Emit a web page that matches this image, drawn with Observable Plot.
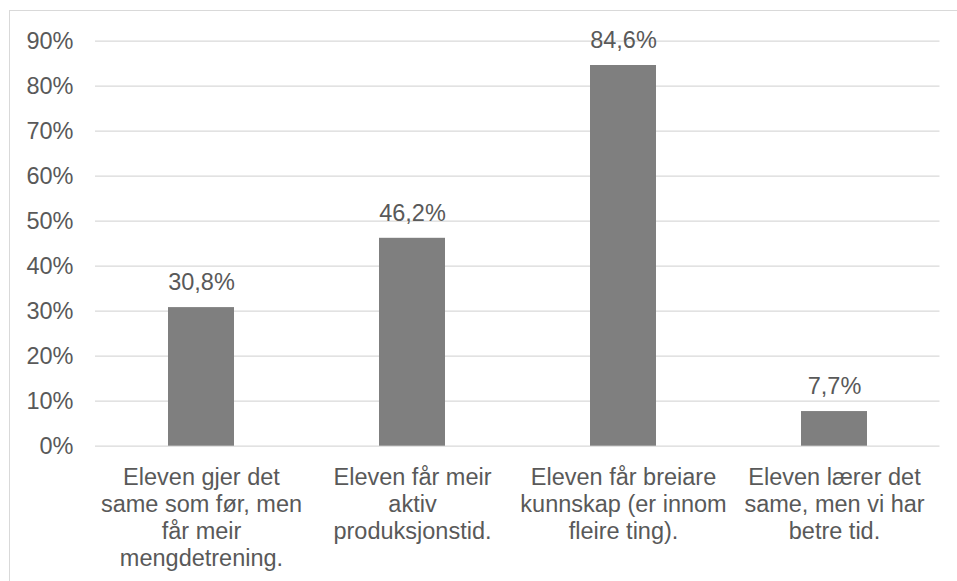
<!DOCTYPE html>
<html>
<head>
<meta charset="utf-8">
<script src="https://cdn.jsdelivr.net/npm/d3@7"></script>
<script src="https://cdn.jsdelivr.net/npm/@observablehq/plot@0.6"></script>
<style>
  html, body { margin: 0; padding: 0; background: #fff; }
  #wrap { position: relative; width: 957px; height: 581px; overflow: hidden; }
  #border { position: absolute; left: 9px; top: 10px; right: -5px; bottom: -5px;
            border-top: 1px solid #d9d9d9; border-left: 1px solid #d9d9d9; pointer-events: none; }
</style>
</head>
<body>
<div id="wrap"><div id="border"></div></div>
<script>
const categories = [
  "Eleven gjer det\nsame som før, men\nfår meir\nmengdetrening.",
  "Eleven får meir\naktiv\nproduksjonstid.",
  "Eleven får breiare\nkunnskap (er innom\nfleire ting).",
  "Eleven lærer det\nsame, men vi har\nbetre tid."
];
const values = [30.8, 46.2, 84.6, 7.7];
const valueLabels = ["30,8%", "46,2%", "84,6%", "7,7%"];
const yTicks = [0, 10, 20, 30, 40, 50, 60, 70, 80, 90];
const yTickLabels = ["0%", "10%", "20%", "30%", "40%", "50%", "60%", "70%", "80%", "90%"];

const data = categories.map((c, i) => ({cat: c, value: values[i], label: valueLabels[i]}));
const font = "Arial, 'Liberation Sans', sans-serif";
const textColor = "#595959";

const chart = Plot.plot({
  width: 957,
  height: 581,
  marginLeft: 95,
  marginRight: 17.5,
  marginTop: 40.7,
  marginBottom: 135.3,
  style: {fontFamily: font, fontSize: "23.5px", color: textColor, background: "transparent"},
  x: {domain: categories, paddingInner: 0.6876, paddingOuter: 0.3438},
  y: {domain: [0, 90]},
  marks: [
    Plot.ruleY(yTicks, {stroke: "#d9d9d9", strokeWidth: 1.2}),
    Plot.barY(data, {x: "cat", y: "value", fill: "#7f7f7f"}),
    Plot.text(data, {x: "cat", y: "value", text: "label", dy: -25, fill: textColor, fontSize: 23.5}),
    Plot.axisY({ticks: yTicks, tickFormat: (d) => yTickLabels[yTicks.indexOf(d)], tickSize: 0, tickPadding: 22,
      fill: textColor, fontSize: 23.5, label: null}),
    Plot.axisX({tickSize: 0, tickPadding: 19.3, fill: textColor, fontSize: 23.5, lineHeight: 1.15, label: null, lineWidth: Infinity})
  ]
});
document.getElementById("wrap").prepend(chart);
</script>
</body>
</html>
